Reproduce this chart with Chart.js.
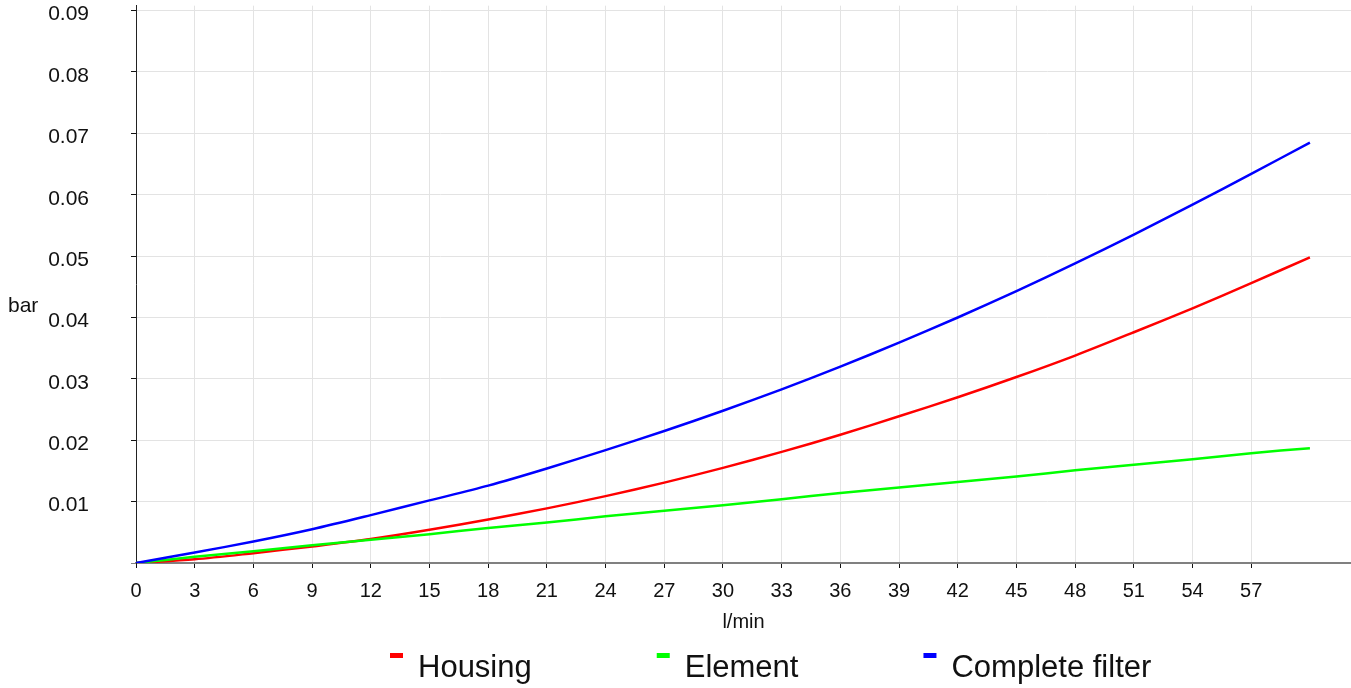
<!DOCTYPE html>
<html>
<head>
<meta charset="utf-8">
<script src="https://cdn.jsdelivr.net/npm/chart.js@4"></script>
<style>
  html, body { margin: 0; padding: 0; background: #fff; }
  #wrap { width: 1351px; height: 688px; position: relative; }
</style>
</head>
<body>
<div id="wrap"><canvas id="pressureChart"></canvas></div>
<script>
// flow in l/min, pressure drop in bar
const flow = [0, 3, 6, 9, 12, 15, 18, 21, 24, 27, 30, 33, 36, 39, 42, 45, 48, 51, 54, 57, 60];
const housing = [0, 0.0006, 0.0016, 0.0027, 0.0039, 0.0054, 0.0071, 0.0089, 0.0109, 0.0131, 0.0155,
    0.0181, 0.0209, 0.0239, 0.0270, 0.0303, 0.0338, 0.0376, 0.0415, 0.0456, 0.0498];
const element = [0, 0.0010, 0.0019, 0.0029, 0.0038, 0.0047, 0.0057, 0.0066, 0.0076, 0.0085, 0.0094,
    0.0104, 0.0114, 0.0123, 0.0132, 0.0141, 0.0151, 0.0160, 0.0169, 0.0179, 0.0187];
const complete = [0, 0.0017, 0.0035, 0.0055, 0.0078, 0.0102, 0.0126, 0.0154, 0.0184, 0.0215, 0.0248,
    0.0283, 0.0320, 0.0359, 0.0400, 0.0443, 0.0488, 0.0535, 0.0584, 0.0634, 0.0685];

const xTicks = [0, 3, 6, 9, 12, 15, 18, 21, 24, 27, 30, 33, 36, 39, 42, 45, 48, 51, 54, 57];
const yTicks = [0, 0.01, 0.02, 0.03, 0.04, 0.05, 0.06, 0.07, 0.08, 0.09];
const seriesNames = ['Housing', 'Element', 'Complete filter'];
const seriesColors = ['#ff0000', '#00ff00', '#0000ff'];

const FONT = "'Liberation Sans', Arial, sans-serif";

function toPoints(values) {
    return flow.map((f, i) => ({ x: f, y: values[i] }));
}

// y axis title sits horizontally at the left, legend is drawn under the x axis
const extrasPlugin = {
    id: 'extras',
    afterDraw(chart) {
        const ctx = chart.ctx;
        ctx.save();
        ctx.fillStyle = '#111';
        ctx.textBaseline = 'alphabetic';
        ctx.textAlign = 'left';
        ctx.font = '21px ' + FONT;
        ctx.fillText('bar', 8, 312);

        ctx.font = '31px ' + FONT;
        let x = 390;
        chart.data.datasets.forEach(ds => {
            ctx.fillStyle = ds.borderColor;
            ctx.fillRect(x, 653, 13, 5);
            ctx.fillStyle = '#111';
            ctx.fillText(ds.label, x + 28, 677);
            x += 28 + ctx.measureText(ds.label).width + 125;
        });
        ctx.restore();
    }
};

new Chart(document.getElementById('pressureChart'), {
    type: 'line',
    data: {
        datasets: [
            { label: seriesNames[0], data: toPoints(housing), borderColor: seriesColors[0], order: 3 },
            { label: seriesNames[1], data: toPoints(element), borderColor: seriesColors[1], order: 2 },
            { label: seriesNames[2], data: toPoints(complete), borderColor: seriesColors[2], order: 1 }
        ]
    },
    options: {
        responsive: true,
        maintainAspectRatio: false,
        animation: false,
        layout: { padding: { top: 5.7, right: 0, bottom: 53.5, left: 0 } },
        elements: {
            line: { borderWidth: 2.5, tension: 0.3, fill: false },
            point: { radius: 0, hoverRadius: 0 }
        },
        plugins: {
            legend: { display: false },
            tooltip: { enabled: false }
        },
        scales: {
            x: {
                type: 'linear',
                min: 0,
                max: 62.1,
                afterBuildTicks: scale => { scale.ticks = xTicks.map(v => ({ value: v })); },
                afterFit: scale => { scale.height = 71.5; },
                grid: {
                    color: ctx => (ctx.tick && ctx.tick.value === 0) ? 'rgba(0,0,0,0)' : '#e3e3e3',
                    lineWidth: 1,
                    tickColor: '#111',
                    tickLength: 5
                },
                border: { color: '#808080', width: 2 },
                ticks: {
                    color: '#111',
                    font: { family: FONT, size: 20 },
                    padding: 11,
                    maxRotation: 0,
                    autoSkip: false
                },
                title: {
                    display: true,
                    text: 'l/min',
                    color: '#111',
                    font: { family: FONT, size: 20 },
                    padding: { top: 7.5, bottom: 0 }
                }
            },
            y: {
                type: 'linear',
                min: 0,
                max: 0.0908,
                afterBuildTicks: scale => { scale.ticks = yTicks.map(v => ({ value: v })); },
                afterFit: scale => {
                    scale.width = 136;
                    scale.paddingTop = 0;
                    scale.paddingBottom = 0;
                },
                grid: {
                    color: ctx => (ctx.tick && ctx.tick.value === 0) ? 'rgba(0,0,0,0)' : '#e3e3e3',
                    lineWidth: 1,
                    tickColor: ctx => (ctx.tick && ctx.tick.value === 0) ? '#808080' : '#111',
                    tickLength: 5
                },
                border: { color: '#222', width: 1 },
                ticks: {
                    color: '#111',
                    font: { family: FONT, size: 21 },
                    padding: 42,
                    labelOffset: 4,
                    autoSkip: false,
                    callback: v => v === 0 ? '' : v.toFixed(2)
                },
                title: { display: false }
            }
        }
    },
    plugins: [extrasPlugin]
});
</script>
</body>
</html>
